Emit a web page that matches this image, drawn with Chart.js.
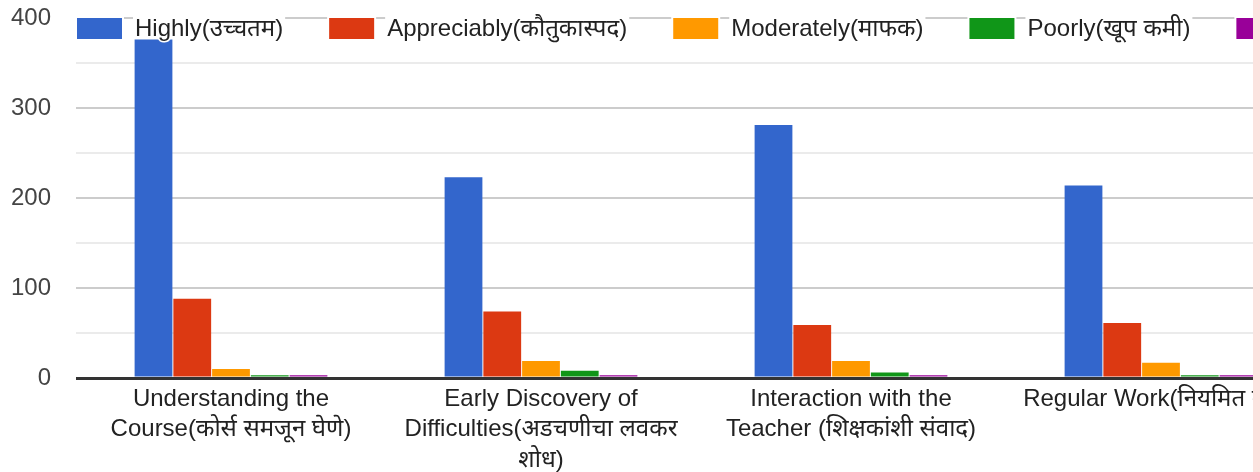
<!DOCTYPE html>
<html>
<head>
<meta charset="utf-8">
<script src="https://cdn.jsdelivr.net/npm/chart.js@4"></script>
<style>
  html, body { margin: 0; padding: 0; background: #fff; overflow: hidden; }
  #wrap { position: absolute; left: 0; top: 0; width: 1316px; height: 472px; }
  #edge { position: fixed; top: 0; right: 0; width: 7px; height: 100%; background: #fbe3df; }
</style>
</head>
<body>
<div id="wrap"><canvas id="chart"></canvas></div>
<div id="edge"></div>
<script>
// categories (x axis), wrapped like the original
const categories = [
    ['Understanding the', 'Course(कोर्स समजून घेणे)'],
    ['Early Discovery of', 'Difficulties(अडचणीचा लवकर', 'शोध)'],
    ['Interaction with the', 'Teacher (शिक्षकांशी संवाद)'],
    ['Regular Work(नियमित काम)']
];
const seriesNames = ['Highly(उच्चतम)', 'Appreciably(कौतुकास्पद)', 'Moderately(माफक)', 'Poorly(खूप कमी)', 'Not at all(अजिबात नाही)'];
const seriesColors = ['#3366cc', '#dc3912', '#ff9900', '#109618', '#990099'];

const highly = [376, 223, 281, 214];
const appreciably = [88, 74, 59, 61];
const moderately = [10, 19, 19, 17];
const poorly = [3, 8, 6, 3];
const notAtAll = [3, 3, 3, 3];

const yMax = 400;
const yStep = 50;

const FONT = "'Liberation Sans', Arial, 'Noto Sans', sans-serif";

// legend drawn inside the plot, over the top gridline
const insideLegend = {
    id: 'insideLegend',
    afterDatasetsDraw(chart) {
        const ctx = chart.ctx;
        ctx.save();
        ctx.font = '24px ' + FONT;
        ctx.textBaseline = 'middle';
        let x = chart.chartArea.left + 1;
        const y = 18;
        chart.data.datasets.forEach(ds => {
            const w = ctx.measureText(ds.label).width;
            ctx.fillStyle = '#fff';
            ctx.fillRect(x - 2, y - 3, 49, 26);
            ctx.fillRect(x + 56, y - 4, w + 4, 22);
            ctx.fillStyle = ds.backgroundColor;
            ctx.fillRect(x, y, 45, 21);
            ctx.lineWidth = 3;
            ctx.strokeStyle = '#fff';
            ctx.strokeText(ds.label, x + 58, y + 11);
            ctx.fillStyle = '#222';
            ctx.fillText(ds.label, x + 58, y + 11);
            x += 58 + w + 46;
        });
        ctx.restore();
    }
};

const seriesData = [highly, appreciably, moderately, poorly, notAtAll];

new Chart(document.getElementById('chart'), {
    type: 'bar',
    data: {
        labels: categories,
        datasets: seriesData.map((d, i) => ({
            label: seriesNames[i],
            data: d,
            backgroundColor: seriesColors[i],
            borderWidth: 0,
            barPercentage: 0.975,
            categoryPercentage: 0.625
        }))
    },
    options: {
        responsive: true,
        maintainAspectRatio: false,
        animation: false,
        layout: { padding: { top: 18, left: 0, right: 0, bottom: 0 } },
        plugins: {
            legend: { display: false },
            tooltip: { enabled: false }
        },
        scales: {
            x: {
                grid: { display: false, drawTicks: false },
                border: { display: false },
                ticks: {
                    color: '#222',
                    font: { family: FONT, size: 24, lineHeight: 1.27 },
                    maxRotation: 0,
                    autoSkip: false,
                    padding: 6
                },
                afterFit(scale) { scale.height = 94; }
            },
            y: {
                min: 0,
                max: yMax,
                border: { display: false },
                grid: {
                    drawTicks: false,
                    color: c => c.tick.value === 0 ? '#333' : (c.tick.value % 100 === 0 ? '#cccccc' : '#ebebeb'),
                    lineWidth: c => c.tick.value === 0 ? 3 : 2
                },
                ticks: {
                    stepSize: yStep,
                    color: '#444',
                    padding: 25,
                    font: { family: FONT, size: 24 },
                    callback: v => v % 100 === 0 ? v : ''
                },
                afterFit(scale) {
                    scale.width = 76;
                    scale.paddingTop = 0;
                    scale.paddingBottom = 0;
                }
            }
        }
    },
    plugins: [insideLegend]
});
</script>
</body>
</html>
